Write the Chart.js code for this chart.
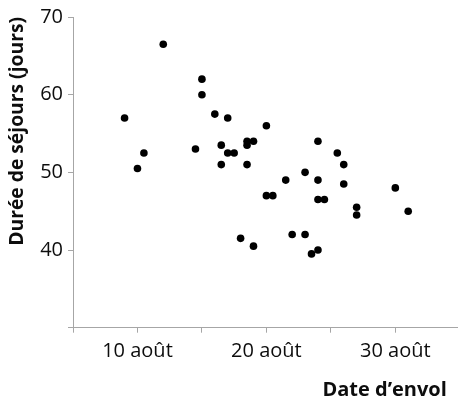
<!DOCTYPE html>
<html lang="fr">
<head>
  <meta charset="UTF-8">
  <meta name="viewport" content="width=device-width, initial-scale=1.0">
  <title>Durée de séjours</title>
  <style>
    html, body { margin: 0; padding: 0; background: #fff; }
    .chartContainer { width: 461px; height: 402px; }
  </style>
</head>
<body>
  <div class="chartContainer">
    <canvas id="myChart"></canvas>
  </div>
  <script src="https://cdn.jsdelivr.net/npm/chart.js"></script>
  <script>
    // date d'envol (jour d'août) et durée de séjour (jours)
    const envolDays = [9, 10, 10.5, 12, 14.5, 15, 15, 16, 17, 16.5, 17, 17.5, 16.5, 20, 18.5, 19, 18.5, 18.5, 24, 25.5,
      26, 23, 21.5, 24, 26, 30, 20, 20.5, 24, 24.5, 27, 27, 31, 18, 19, 22, 23, 24, 23.5]
    const sejourDays = [57, 50.5, 52.5, 66.5, 53, 62, 60, 57.5, 57, 53.5, 52.5, 52.5, 51, 56, 54, 54, 53.5, 51, 54, 52.5,
      51, 50, 49, 49, 48.5, 48, 47, 47, 46.5, 46.5, 45.5, 44.5, 45, 41.5, 40.5, 42, 42, 40, 39.5]

    const xTickValues = [5, 10, 15, 20, 25, 30]
    const xTickLabels = ['', '10 août', '', '20 août', '', '30 août']
    const yTickValues = [30, 40, 50, 60, 70]
    const yTickLabels = ['', '40', '50', '60', '70']

    const axisColor = '#a6a6a6'
    const textColor = '#0d0d0d'
    const fontFamily = '"Open Sans", "Noto Sans", sans-serif'

    const points = envolDays.map((x, i) => ({ x: x, y: sejourDays[i] }))

    const config = {
      type: 'scatter',
      data: {
        datasets: [{
          data: points,
          backgroundColor: '#000',
          borderWidth: 0,
          pointRadius: 3.8,
          pointHoverRadius: 3.8
        }]
      },
      options: {
        responsive: true,
        maintainAspectRatio: false,
        animation: false,
        layout: { padding: { top: 15, right: 0, bottom: 0, left: 0 } },
        plugins: {
          legend: { display: false },
          tooltip: { enabled: false }
        },
        scales: {
          x: {
            type: 'linear',
            min: 5,
            max: 34.8,
            afterBuildTicks: (scale) => {
              scale.ticks = xTickValues.map(v => ({ value: v }))
            },
            afterFit: (scale) => { scale.height = 74.3 },
            ticks: {
              autoSkip: false,
              maxRotation: 0,
              padding: 7,
              color: textColor,
              font: { family: fontFamily, size: 20 },
              callback: (value) => {
                const i = xTickValues.indexOf(value)
                return i >= 0 ? xTickLabels[i] : ''
              }
            },
            grid: { drawOnChartArea: false, drawTicks: true, tickLength: 5, color: axisColor },
            border: { display: true, color: axisColor, width: 1 },
            title: {
              display: true,
              text: 'Date d’envol\u00a0\u00a0',
              align: 'end',
              color: textColor,
              padding: 0,
              font: { family: fontFamily, size: 20, weight: 'bold' }
            }
          },
          y: {
            type: 'linear',
            min: 30,
            max: 70,
            afterBuildTicks: (scale) => {
              scale.ticks = yTickValues.map(v => ({ value: v }))
            },
            afterFit: (scale) => { scale.width = 73 },
            ticks: {
              padding: 5,
              color: textColor,
              font: { family: fontFamily, size: 20 },
              callback: (value) => {
                const i = yTickValues.indexOf(value)
                return i >= 0 ? yTickLabels[i] : ''
              }
            },
            grid: { drawOnChartArea: false, drawTicks: true, tickLength: 5, color: axisColor },
            border: { display: true, color: axisColor, width: 1 },
            title: {
              display: true,
              text: 'Durée de séjours (jours)',
              align: 'end',
              color: textColor,
              padding: { top: 6, bottom: 0 },
              font: { family: fontFamily, size: 19.3, weight: 'bold' }
            }
          }
        }
      }
    }

    const myChart = new Chart(document.getElementById('myChart'), config)
  </script>
</body>
</html>
